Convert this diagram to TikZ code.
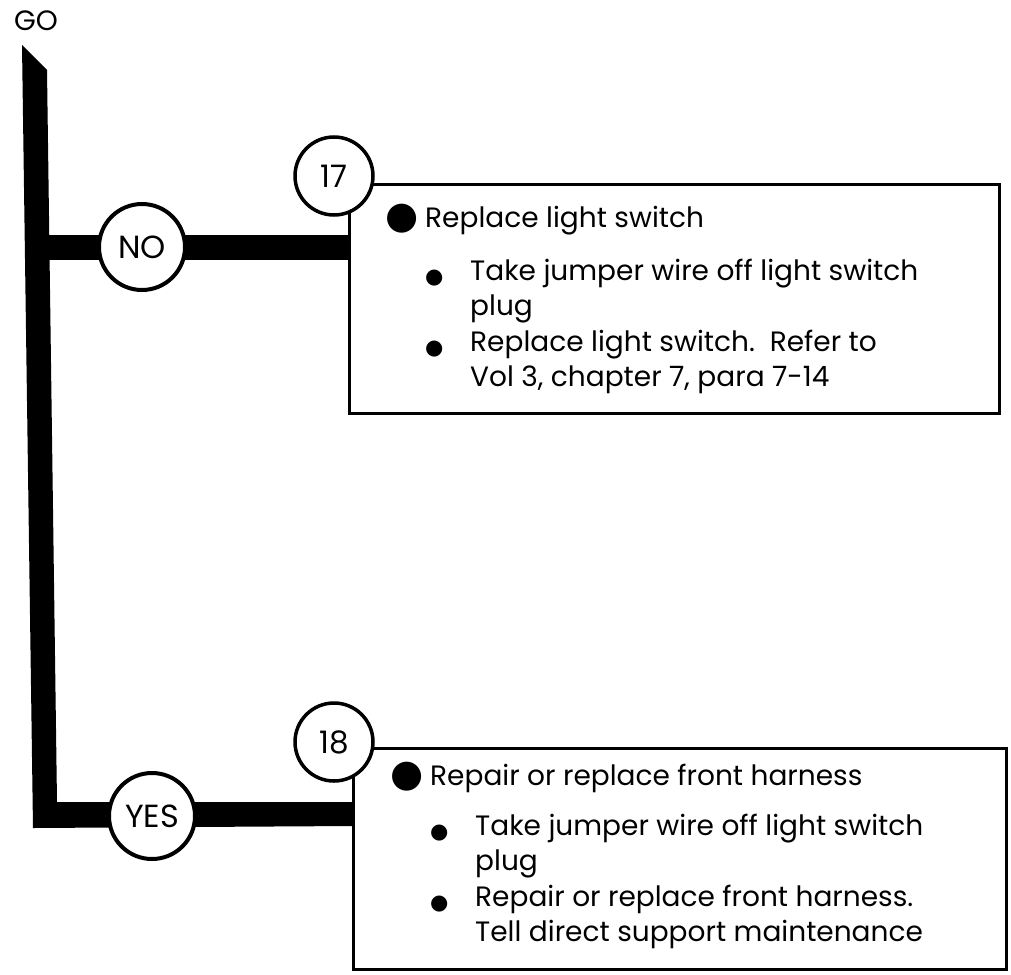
\documentclass[tikz,border=0pt]{standalone}
\usepackage{fontspec}
\setmainfont{Poppins}
\newfontfamily\dotfont{DejaVu Sans}
\usetikzlibrary{positioning}
\newcommand\bigdot{\makebox[40pt][l]{\raisebox{-1.5pt}{\dotfont\fontsize{38}{38}\selectfont ●}}}
\newcommand\smalldot{\makebox[45pt][l]{\raisebox{-3pt}{\dotfont\fontsize{21}{21}\selectfont ●}}}
\begin{document}
\begin{tikzpicture}[x=1pt,y=-1pt,font=\fontsize{28}{35.5}\selectfont,
  every node/.style={inner sep=0pt},
  answer/.style={circle,draw,line width=4pt,fill=white,minimum size=86pt,font=\fontsize{32}{32}\selectfont},
  stepno/.style={circle,draw,line width=3.5pt,fill=white,minimum size=78pt,font=\fontsize{31}{31}\selectfont},
  card/.style={draw,line width=3pt,anchor=north west},
  items/.style={anchor=base west}]
\useasboundingbox (0,0) rectangle (1011,974);
\node (go) at (36,21) {\fontsize{28}{28}\selectfont GO};
% action boxes
\node[card,minimum width=650pt,minimum height=229pt] (box17) at (348,183) {};
\node[card,minimum width=653pt,minimum height=221pt] (box18) at (352,747) {};
% trunk and branches
\fill (22,45) -- (47,70) -- (57,802) -- (box18.west |- 0,802) -- (box18.west |- 0,826) -- (33,828) -- cycle;
\fill (40,235) rectangle (box17.west |- 0,260);
\node[answer] (no) at (142,247) {NO};
\node[answer] (yes) at (152,816) {YES};
\node[stepno] (s17) at (334,176) {17};
\node[stepno] (s18) at (334,742) {18};
% texts
\node[items] (t17) at ([xshift=37pt,yshift=-44pt]box17.north west) {\begin{tabular}[t]{@{}l@{}l@{}l@{}}
\bigdot & \multicolumn{2}{@{}l@{}}{Replace light switch}\\[17.5pt]
 & \smalldot & Take jumper wire off light switch\\
 & & plug\\
 & \smalldot & Replace light switch.\ \ Refer to\\
 & & Vol 3, chapter 7, para 7-14
\end{tabular}};
\node[items] (t18) at ([xshift=38pt,yshift=-38pt]box18.north west) {\begin{tabular}[t]{@{}l@{}l@{}l@{}}
\bigdot & \multicolumn{2}{@{}l@{}}{Repair or replace front harness}\\[14.5pt]
 & \smalldot & Take jumper wire off light switch\\
 & & plug\\
 & \smalldot & Repair or replace front harness.\\
 & & Tell direct support maintenance
\end{tabular}};
\end{tikzpicture}
\end{document}
